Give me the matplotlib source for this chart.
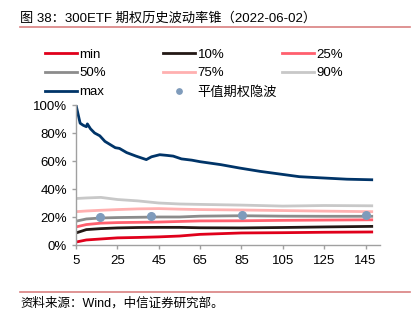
import matplotlib
matplotlib.use('Agg')
import matplotlib.pyplot as plt
from matplotlib.lines import Line2D
from matplotlib.ticker import PercentFormatter

plt.rcParams['font.family'] = ['Liberation Sans', 'Noto Sans CJK SC', 'DejaVu Sans']

# window lengths (trading days) and volatility cone values (%)
win_max = [5, 7, 8.5, 10, 10.5, 12, 14, 16.5, 19, 24, 26, 29.5, 34, 39, 41.5, 45.5, 49, 52, 56, 61, 65, 75,
           84, 94, 104, 113, 123, 136, 148]
vol_max = [100, 87, 85.5, 84.5, 86.5, 83, 80, 78, 74, 69.5, 69, 66, 63.5, 61, 63, 64.5, 64, 63.5, 61.5, 60.6, 59.5,
           57.4, 55, 52.6, 50.6, 48.8, 48, 47, 46.6]

win = [5, 10, 17, 25, 35, 45, 55, 65, 85, 105, 125, 148]
vol_90 = [33.2, 33.6, 34, 32.5, 31.5, 30, 29.3, 29, 28.5, 27.8, 28.2, 28]
vol_75 = [23.8, 24.3, 24.8, 25.3, 25.8, 26, 25.6, 25.3, 25, 24.6, 24.2, 23.8]
vol_50 = [17, 18.6, 19.3, 19.6, 19.8, 20, 20, 20.6, 20.9, 20.6, 20.5, 20.5]
vol_25 = [12.9, 14.6, 15.6, 16, 16.2, 16.4, 16.8, 17.2, 17.3, 17.6, 17.8, 18]
vol_10 = [8.6, 11, 11.7, 12.2, 12.5, 12.6, 12.6, 12.3, 12.2, 12.5, 12.9, 13.3]
vol_min = [2.1, 3.6, 4.3, 5.1, 5.4, 5.8, 6.4, 7.6, 8.6, 8.8, 9.1, 9.3]

iv_win = [16.5, 41.5, 85.5, 145]
iv_val = [20, 20.6, 21.5, 21.5]

W, H = 412, 322
fig = plt.figure(figsize=(W / 100, H / 100), dpi=100)
ax = fig.add_axes([76 / W, (H - 245) / H, (380 - 76) / W, 140 / H])

lw = 2.0
h_min, = ax.plot(win, vol_min, color='#e0001b', lw=lw, label='min')
h_10, = ax.plot(win, vol_10, color='#231815', lw=lw, label='10%')
h_25, = ax.plot(win, vol_25, color='#ff5f6e', lw=lw, label='25%')
h_50, = ax.plot(win, vol_50, color='#8c8c8c', lw=lw, label='50%')
h_75, = ax.plot(win, vol_75, color='#ffb0b0', lw=lw, label='75%')
h_90, = ax.plot(win, vol_90, color='#c8c8c8', lw=lw, label='90%')
h_max, = ax.plot(win_max, vol_max, color='#003468', lw=lw, label='max')
h_iv, = ax.plot(iv_win, iv_val, 'o', color='#7f9bbb', markersize=5.5, label='平值期权隐波')
h_iv.set_zorder(5)

ax.set_xlim(5, 152)
ax.set_ylim(0, 100)
ax.set_xticks([5, 25, 45, 65, 85, 105, 125, 145])
ax.set_yticks([0, 20, 40, 60, 80, 100])
ax.yaxis.set_major_formatter(PercentFormatter(decimals=0))
for s in ['top', 'right']:
    ax.spines[s].set_visible(False)
for s in ['left', 'bottom']:
    ax.spines[s].set_color('#a0a0a0')
    ax.spines[s].set_linewidth(1)
ax.tick_params(axis='both', colors='#a0a0a0', labelcolor='black', labelsize=9.5, length=3, width=1)
ax.tick_params(axis='x', pad=4)

# legends, one per column
cols = [([h_min, h_50, h_max], 45), ([h_10, h_75, h_iv], 163), ([h_25, h_90], 282)]
for handles, x0 in cols:
    fig.legend(handles=handles, loc='upper left', bbox_to_anchor=((x0 - 5) / W, (H - 43) / H),
               frameon=False, fontsize=9.5, handlelength=2.4, handletextpad=0.2,
               labelspacing=0.5, borderaxespad=0, markerscale=0.7)

# title and footer
fig.text(20 / W, 1 - 18 / H, '图 38：300ETF 期权历史波动率锥（2022-06-02）', fontsize=9.5, va='center', ha='left')
fig.add_artist(Line2D([20 / W, 410 / W], [1 - 27 / H, 1 - 27 / H], color='#d98080', lw=1.2))
fig.add_artist(Line2D([20 / W, 410 / W], [1 - 292 / H, 1 - 292 / H], color='#d98080', lw=1.2))
fig.text(20 / W, 1 - 303 / H, '资料来源：Wind，中信证券研究部。', fontsize=9, va='center', ha='left')

fig.savefig('out.png', dpi=100)
